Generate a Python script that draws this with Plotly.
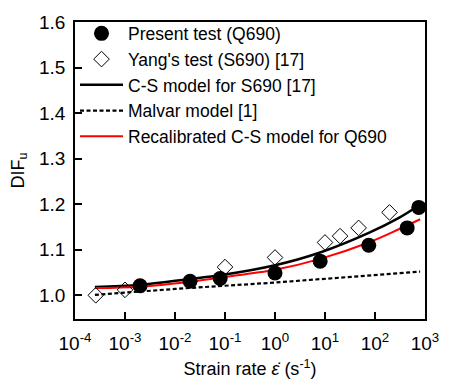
import plotly.graph_objects as go

# Present test (Q690)
present_x = [0.002, 0.02, 0.08, 1.0, 8.0, 75.0, 440.0, 750.0]
present_y = [1.021, 1.031, 1.037, 1.049, 1.075, 1.110, 1.148, 1.193]

# Yang's test (S690) [17]
yang_x = [0.00026, 0.001, 0.1, 1.0, 10.0, 20.0, 47.0, 195.0]
yang_y = [1.000, 1.012, 1.062, 1.083, 1.116, 1.130, 1.148, 1.182]

# C-S model for S690 [17]
cs_x = [0.00025, 0.002, 0.02, 0.08, 1.0, 8.0, 75.0, 300.0, 700.0]
cs_y = [1.018, 1.023, 1.036, 1.044, 1.066, 1.094, 1.137, 1.170, 1.195]

# Malvar model [1]
mal_x = [0.00025, 0.01, 1.0, 100.0, 800.0]
mal_y = [1.001, 1.014, 1.028, 1.044, 1.052]

# Recalibrated C-S model for Q690
rc_x = [0.00025, 0.002, 0.02, 0.08, 1.0, 8.0, 75.0, 300.0, 800.0]
rc_y = [1.016, 1.019, 1.030, 1.039, 1.056, 1.080, 1.116, 1.145, 1.167]

tick_vals = [1e-4, 1e-3, 1e-2, 1e-1, 1e0, 1e1, 1e2, 1e3]
tick_text = ["10<sup>-4</sup>", "10<sup>-3</sup>", "10<sup>-2</sup>", "10<sup>-1</sup>",
             "10<sup>0</sup>", "10<sup>1</sup>", "10<sup>2</sup>", "10<sup>3</sup>"]
y_ticks = [1.0, 1.1, 1.2, 1.3, 1.4, 1.5, 1.6]

font_family = "Liberation Sans, Arial, sans-serif"

fig = go.Figure()
fig.add_trace(go.Scatter(x=mal_x, y=mal_y, mode="lines", name="Malvar model [1]",
                         line=dict(color="black", width=2.2, dash="4px,2.5px"), legendrank=4))
fig.add_trace(go.Scatter(x=cs_x, y=cs_y, mode="lines", name="C-S model for S690 [17]",
                         line=dict(color="black", width=2.5, shape="spline"), legendrank=3))
fig.add_trace(go.Scatter(x=rc_x, y=rc_y, mode="lines", name="Recalibrated C-S model for Q690",
                         line=dict(color="#ff0000", width=2, shape="spline"), legendrank=5))
fig.add_trace(go.Scatter(x=yang_x, y=yang_y, mode="markers", name="Yang's test (S690) [17]",
                         marker=dict(symbol="diamond-open", size=12, color="black",
                                     line=dict(width=1, color="black")), legendrank=2))
fig.add_trace(go.Scatter(x=present_x, y=present_y, mode="markers", name="Present test (Q690)",
                         marker=dict(symbol="circle", size=15, color="black"), legendrank=1))

fig.update_layout(
    width=451, height=390,
    margin=dict(l=75, r=14, t=14, b=71),
    paper_bgcolor="white", plot_bgcolor="white",
    font=dict(family=font_family, size=17, color="black"),
    showlegend=True,
    legend=dict(x=0.0, y=1.022, xanchor="left", yanchor="top",
                bgcolor="rgba(0,0,0,0)", font=dict(size=17.5),
                itemwidth=43, tracegroupgap=0),
    xaxis=dict(type="log", range=[-4, 3], tickvals=tick_vals, ticktext=tick_text,
               showline=True, linecolor="black", linewidth=1.5, mirror=True,
               ticks="inside", ticklen=7, tickwidth=1.5, tickcolor="black",
               showgrid=False, zeroline=False, tickfont=dict(size=19),
               ticklabelstandoff=6, ticklabeloverflow="allow",
               title=dict(text="Strain rate <i>ε̇</i> (s<sup>-1</sup>)", font=dict(size=18), standoff=10)),
    yaxis=dict(range=[0.948, 1.6], tickvals=y_ticks, tickformat=".1f",
               showline=True, linecolor="black", linewidth=1.5, mirror=True,
               ticks="inside", ticklen=7, tickwidth=1.5, tickcolor="black",
               showgrid=False, zeroline=False, tickfont=dict(size=19),
               ticklabelstandoff=4,
               title=dict(text="DIF<sub>u</sub>", font=dict(size=18), standoff=10)),
)

fig.write_html("out.html")
